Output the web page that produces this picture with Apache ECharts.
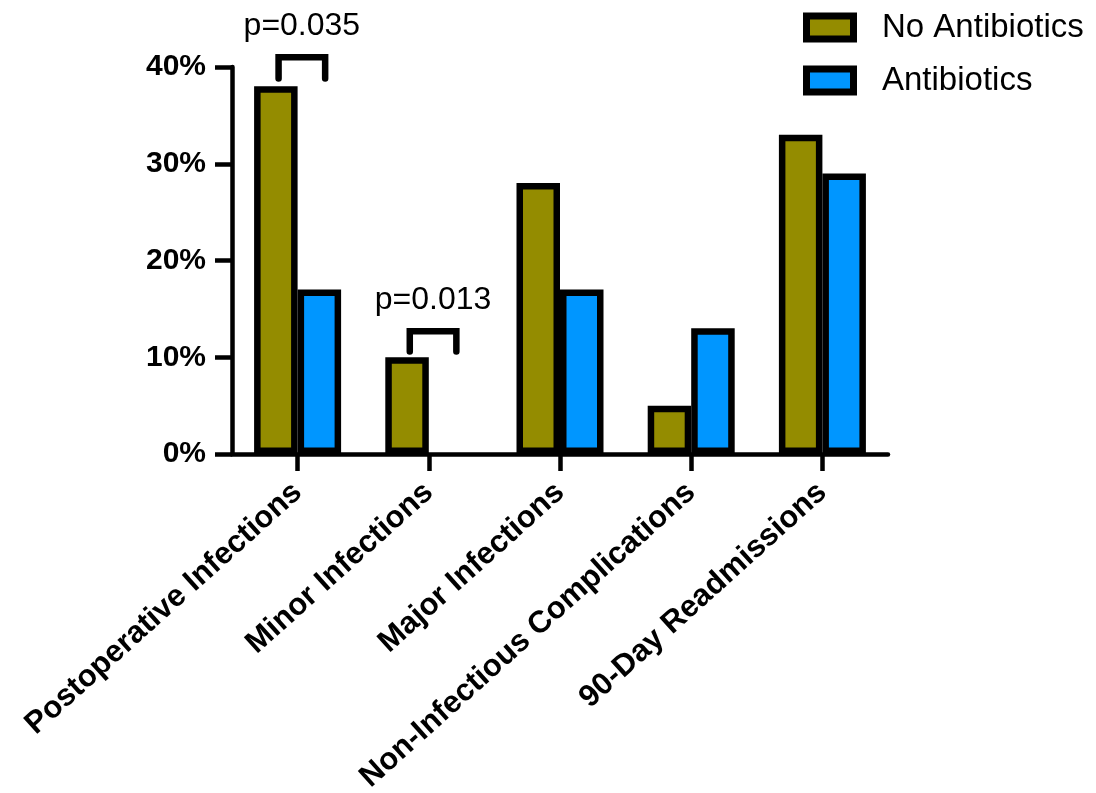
<!DOCTYPE html>
<html><head><meta charset="utf-8">
<script src="https://cdn.jsdelivr.net/npm/echarts@6/dist/echarts.min.js"></script>
<style>html,body{margin:0;padding:0;background:#fff}#c{width:1096px;height:793px}</style>
</head><body><div id="c"></div>
<script>
// ---- data ----
const categories = ['Postoperative Infections', 'Minor Infections', 'Major Infections', 'Non-Infectious Complications', '90-Day Readmissions'];
const seriesNames = ['No Antibiotics', 'Antibiotics'];
const noAntibiotics = [38, 10, 28, 5, 33];
const antibiotics = [17, 0, 17, 13, 29];
const yMin = 0, yMax = 40, yInterval = 10;
// significance brackets
const sigCategories = [0, 1];
const sigLabels = ['p=0.035', 'p=0.013'];
const sigTop = [41, 12.7];
const sigLegBottom = [38.8, 10.6];

const FONT = '"Liberation Sans", Arial, Helvetica, sans-serif';
const chart = echarts.init(document.getElementById('c'), null, {renderer: 'canvas'});

// zero-height bars are not outlined
const barData = (arr) => arr.map(v => v === 0 ? {value: v, itemStyle: {borderWidth: 0}} : v);

const option = {
  animation: false,
  backgroundColor: '#fff',
  grid: {left: 232, right: 208, top: 67, bottom: 339, containLabel: false, outerBoundsMode: 'none'},
  legend: {
    orient: 'vertical', left: 803, top: 11, padding: 0,
    itemWidth: 47, itemHeight: 23, itemGap: 20,
    icon: 'rect',
    data: seriesNames,
    itemStyle: {borderColor: '#000', borderWidth: 7},
    textStyle: {fontSize: 33, lineHeight: 30, fontFamily: FONT, color: '#000', padding: [0, 0, 0, 23.5]}
  },
  xAxis: {
    type: 'category', data: categories, boundaryGap: true,
    axisLine: {show: true, lineStyle: {color: '#000', width: 4.5}},
    axisTick: {show: true, alignWithLabel: true, length: 17, lineStyle: {color: '#000', width: 4.5}},
    axisLabel: {interval: 0, rotate: 42, margin: 34, fontSize: 31, fontWeight: 'bold', fontFamily: FONT, color: '#000'},
    splitLine: {show: false}
  },
  yAxis: {
    type: 'value', min: yMin, max: yMax, interval: yInterval,
    axisLine: {show: true, lineStyle: {color: '#000', width: 4.5}},
    axisTick: {show: true, length: 17, lineStyle: {color: '#000', width: 4.5}},
    axisLabel: {formatter: '{value}%', margin: 26, fontSize: 30, fontWeight: 'bold', fontFamily: FONT, color: '#000'},
    splitLine: {show: false}
  },
  series: [
    {
      name: seriesNames[0], type: 'bar', data: barData(noAntibiotics),
      barWidth: 43.5, barGap: '0%',
      itemStyle: {color: '#948C00', borderColor: '#000', borderWidth: 6.5}
    },
    {
      name: seriesNames[1], type: 'bar', data: barData(antibiotics),
      barWidth: 43.5, barGap: '0%',
      itemStyle: {color: '#0096FF', borderColor: '#000', borderWidth: 6.5}
    },
    {
      name: 'significance', type: 'custom', clip: false, z: 5,
      data: sigCategories.map((c, i) => [c, sigTop[i], sigLegBottom[i]]),
      encode: {x: 0, y: 1},
      renderItem: function (params, api) {
        const c = api.value(0);
        const top = api.coord([c, api.value(1)]);
        const bot = api.coord([c, api.value(2)]);
        const band = api.size([1, 0])[0];
        const x1 = top[0] - band * 0.145, x2 = top[0] + band * 0.21;
        return {
          type: 'group',
          children: [
            {type: 'polyline',
             shape: {points: [[x1, bot[1]], [x1, top[1]], [x2, top[1]], [x2, bot[1]]]},
             style: {stroke: '#000', lineWidth: 6.5, fill: null, lineJoin: 'miter', lineCap: 'round'}},
            {type: 'text', x: (x1 + x2) / 2, y: top[1] - 31,
             style: {text: sigLabels[params.dataIndex], font: '32px ' + FONT, fill: '#000', align: 'center', verticalAlign: 'middle'}}
          ]
        };
      }
    }
  ]
};
chart.setOption(option);
</script>
</body></html>
